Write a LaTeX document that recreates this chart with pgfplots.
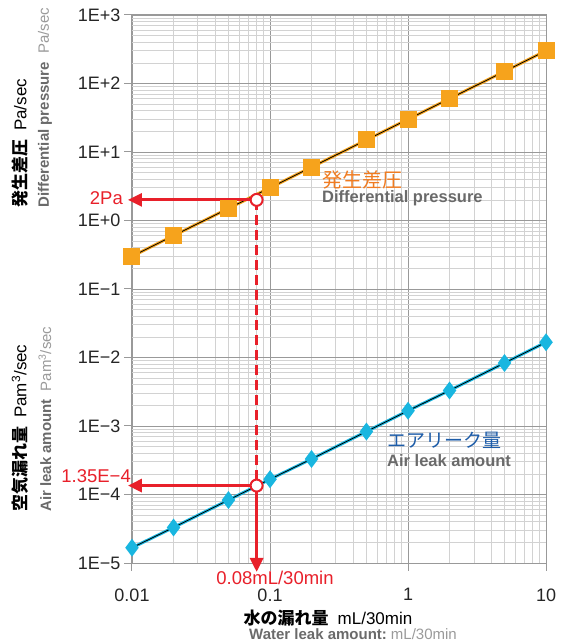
\documentclass[border=0pt]{standalone}
\usepackage{fontspec}
\setmainfont{Liberation Sans}
\newfontfamily\jp{Noto Sans CJK JP}
\usepackage{pgfplots}
\pgfplotsset{compat=1.18}
\usetikzlibrary{arrows.meta}
\definecolor{dporange}{HTML}{F6A31C}
\definecolor{dplabel}{HTML}{F07C22}
\definecolor{alcyan}{HTML}{19B6E0}
\definecolor{allabel}{HTML}{1D5CA8}
\definecolor{annred}{HTML}{E8202A}
\definecolor{txgray}{HTML}{6A6A6A}
\definecolor{ltgray}{HTML}{9A9A9A}
\begin{document}
\begin{tikzpicture}[x=1bp,y=1bp]
\begin{axis}[
  at={(132bp,80bp)}, anchor=south west,
  width=414bp, height=548bp, scale only axis,
  xmode=log, ymode=log,
  xmin=0.01, xmax=10, ymin=1e-5, ymax=1e3,
  xtick={0.01,0.1,1,10}, xticklabels={0.01,0.1,1,10},
  ytick={1e-5,1e-4,1e-3,1e-2,1e-1,1,10,100,1000},
  yticklabels={1E−5,1E−4,1E−3,1E−2,1E−1,1E+0,1E+1,1E+2,1E+3},
  grid=both,
  major grid style={draw=gray!80, line width=0.9bp},
  minor grid style={draw=gray!35, line width=0.7bp},
  axis line style={draw=gray!80, line width=1bp},
  tick pos=left, tick align=outside,
  major tick length=8bp, minor tick length=0pt,
  every tick/.style={draw=gray!80, line width=1bp},
  tick label style={font=\fontsize{18bp}{20bp}\selectfont, text=black!85},
  yticklabel style={xshift=0bp},
  xticklabel style={yshift=-14bp},
  clip=false,
]
% Differential pressure
\addplot[draw=dporange, line width=3bp, mark=square*, mark size=7bp,
  mark options={fill=dporange, draw=none}] coordinates {
  (0.01,0.3) (0.02,0.6) (0.05,1.5) (0.1,3) (0.2,6) (0.5,15) (1,30) (2,60) (5,150) (10,300)};
\addplot[black, line width=0.8bp] coordinates {
  (0.01,0.3) (0.02,0.6) (0.05,1.5) (0.1,3) (0.2,6) (0.5,15) (1,30) (2,60) (5,150) (10,300)};
% Air leak amount
\addplot[draw=alcyan, line width=3bp, mark=diamond*, mark size=6.5bp,
  mark options={fill=alcyan, draw=none}] coordinates {
  (0.01,1.67e-5) (0.02,3.3e-5) (0.05,8.3e-5) (0.1,1.67e-4) (0.2,3.3e-4) (0.5,8.3e-4) (1,1.67e-3) (2,3.3e-3) (5,8.3e-3) (10,1.67e-2)};
\addplot[black, line width=0.8bp] coordinates {
  (0.01,1.67e-5) (0.02,3.3e-5) (0.05,8.3e-5) (0.1,1.67e-4) (0.2,3.3e-4) (0.5,8.3e-4) (1,1.67e-3) (2,3.3e-3) (5,8.3e-3) (10,1.67e-2)};
% red annotation lines
\addplot[annred, line width=3bp, -{Triangle[length=14bp,width=13bp]}] coordinates {(0.08,2) (0.00935,2)};
\addplot[annred, line width=3bp, dash pattern=on 10bp off 5bp] coordinates {(0.08,2) (0.08,1.35e-4)};
\addplot[annred, line width=3bp, -{Triangle[length=14bp,width=13bp]}] coordinates {(0.08,1.35e-4) (0.00935,1.35e-4)};
\addplot[annred, line width=3bp, -{Triangle[length=14bp,width=13bp]}] coordinates {(0.08,1.35e-4) (0.08,7.4e-6)};
\addplot[only marks, mark=*, mark size=6bp, mark options={fill=white, draw=annred, line width=2bp}] coordinates {(0.08,2) (0.08,1.35e-4)};
\end{axis}
% red labels
\node[anchor=east, text=annred, font=\fontsize{18.5bp}{20bp}\selectfont, inner sep=0pt] at (123,445) {2Pa};
\node[anchor=south east, text=annred, font=\fontsize{18.5bp}{20bp}\selectfont, inner sep=0pt] at (131,160) {1.35E−4};
\node[anchor=center, text=annred, font=\fontsize{18.5bp}{20bp}\selectfont, inner sep=0pt] at (275,65) {0.08mL/30min};
% series labels
\node[anchor=west, text=dplabel, font=\fontsize{20bp}{22bp}\selectfont\jp, inner sep=0pt] at (322,463) {発生差圧};
\node[anchor=west, text=txgray, font=\fontsize{16.5bp}{18bp}\selectfont\bfseries, inner sep=0pt] at (322,445) {Differential pressure};
\node[anchor=west, text=allabel, font=\fontsize{19bp}{21bp}\selectfont\jp, inner sep=0pt] at (387,203) {エアリーク量};
\node[anchor=west, text=txgray, font=\fontsize{16.5bp}{18bp}\selectfont\bfseries, inner sep=0pt] at (387,182) {Air leak amount};
% y-axis labels
\node[rotate=90, anchor=west, inner sep=0pt] at (20,435) {{\fontsize{17bp}{19bp}\selectfont\jp\bfseries 発生差圧}\hspace{9bp}{\fontsize{17bp}{19bp}\selectfont Pa/sec}};
\node[rotate=90, anchor=west, inner sep=0pt] at (45,435) {{\fontsize{15bp}{17bp}\selectfont\bfseries\color{txgray}Differential pressure}\hspace{8bp}{\fontsize{15bp}{17bp}\selectfont\color{ltgray}Pa/sec}};
\node[rotate=90, anchor=west, inner sep=0pt] at (20,131) {{\fontsize{17bp}{19bp}\selectfont\jp\bfseries 空気漏れ量}\hspace{9bp}{\fontsize{17bp}{19bp}\selectfont Pam\textsuperscript{3}/sec}};
\node[rotate=90, anchor=west, inner sep=0pt] at (45,131) {{\fontsize{15bp}{17bp}\selectfont\bfseries\color{txgray}Air leak amount}\hspace{8bp}{\fontsize{15bp}{17bp}\selectfont\color{ltgray}Pam\textsuperscript{3}/sec}};
% x-axis labels
\node[anchor=center, inner sep=0pt] at (328,25) {{\fontsize{17bp}{19bp}\selectfont\jp\bfseries 水の漏れ量}\hspace{9bp}{\fontsize{17bp}{19bp}\selectfont mL/30min}};
\node[anchor=center, inner sep=0pt] at (353,9) {{\fontsize{15bp}{17bp}\selectfont\bfseries\color{txgray}Water leak amount:}\hspace{4bp}{\fontsize{15bp}{17bp}\selectfont\color{ltgray}mL/30min}};
\pgfresetboundingbox
\path[use as bounding box] (0,0) rectangle (567,643);
\end{tikzpicture}
\end{document}
